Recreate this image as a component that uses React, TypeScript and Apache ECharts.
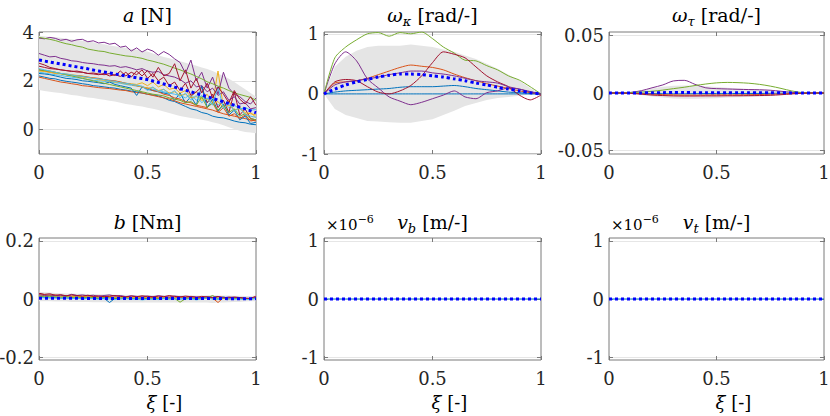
import React, { useEffect, useRef } from "react";
import * as echarts from "echarts";

const FONT = "DejaVu Serif";
const MAT = ["#0072BD", "#D95319", "#EDB120", "#7E2F8E", "#77AC30", "#4DBEEE", "#A2142F"];
const MEAN_COLOR = "#0000FF";
const BAND_COLOR = "#e5e5e5";
const AXIS_COLOR = "#7a7a7a";
const GRID_COLOR = "#e6e6e6";
const TEXT_COLOR = "#262626";

const X41 = [0, 0.025, 0.05, 0.075, 0.1, 0.125, 0.15, 0.175, 0.2, 0.225, 0.25, 0.275, 0.3, 0.325, 0.35, 0.375, 0.4, 0.425, 0.45, 0.475, 0.5, 0.525, 0.55, 0.575, 0.6, 0.625, 0.65, 0.675, 0.7, 0.725, 0.75, 0.775, 0.8, 0.825, 0.85, 0.875, 0.9, 0.925, 0.95, 0.975, 1];
const X21 = [0, 0.05, 0.1, 0.15, 0.2, 0.25, 0.3, 0.35, 0.4, 0.45, 0.5, 0.55, 0.6, 0.65, 0.7, 0.75, 0.8, 0.85, 0.9, 0.95, 1];
const X_TICKS = [0, 0.5, 1];

// ---------- a [N] ----------
const A1 = [2.20, 2.15, 2.10, 2.08, 2.02, 1.98, 1.95, 1.92, 1.88, 1.85, 1.80, 1.78, 1.75, 1.72, 1.70, 1.65, 1.62, 1.58, 1.55, 1.50, 1.45, 1.42, 1.38, 1.30, 1.20, 1.15, 1.05, 0.95, 0.85, 0.80, 0.70, 0.65, 0.55, 0.50, 0.48, 0.42, 0.35, 0.30, 0.28, 0.22, 0.20];
const A2 = [2.15, 2.10, 2.05, 2.00, 1.95, 1.92, 1.88, 1.85, 1.80, 1.78, 1.75, 1.72, 1.70, 1.68, 1.65, 1.62, 1.60, 1.55, 1.52, 1.50, 1.45, 1.40, 1.35, 1.30, 1.25, 1.18, 1.10, 1.05, 1.00, 0.95, 0.90, 0.85, 0.80, 0.72, 0.65, 0.60, 0.55, 0.50, 0.45, 0.40, 0.35];
const A3 = [2.45, 2.42, 2.38, 2.35, 2.30, 2.28, 2.25, 2.22, 2.20, 2.15, 2.12, 2.08, 2.05, 2.00, 1.98, 1.95, 1.90, 1.88, 1.85, 1.92, 1.80, 1.95, 1.75, 1.85, 1.65, 1.70, 1.50, 1.60, 1.35, 1.55, 1.25, 1.45, 1.10, 2.40, 0.90, 1.20, 0.75, 0.95, 0.60, 0.70, 0.50];
const A4 = [3.75, 3.72, 3.78, 3.74, 3.66, 3.70, 3.62, 3.68, 3.70, 3.60, 3.64, 3.55, 3.58, 3.50, 3.54, 3.38, 3.42, 3.22, 3.35, 3.18, 3.30, 3.22, 3.05, 3.20, 3.08, 2.90, 2.75, 2.30, 2.85, 2.00, 2.35, 1.70, 2.15, 1.45, 2.35, 1.70, 1.45, 1.35, 1.15, 1.05, 1.30];
const A5 = [3.78, 3.74, 3.70, 3.65, 3.58, 3.52, 3.48, 3.42, 3.38, 3.30, 3.26, 3.22, 3.20, 3.14, 3.10, 3.06, 3.02, 3.00, 2.96, 2.92, 2.85, 2.80, 2.74, 2.68, 2.60, 2.52, 2.45, 2.36, 2.28, 2.18, 2.08, 1.96, 1.88, 1.78, 1.70, 1.60, 1.50, 1.44, 1.38, 1.32, 1.20];
const A6 = [2.35, 2.32, 2.28, 2.25, 2.22, 2.18, 2.15, 2.12, 2.10, 2.05, 2.02, 2.00, 1.98, 1.95, 1.92, 1.90, 1.85, 1.82, 1.78, 1.75, 1.70, 1.65, 1.60, 1.55, 1.50, 1.45, 1.40, 1.30, 1.45, 1.20, 1.40, 1.10, 1.30, 1.00, 1.15, 0.90, 1.00, 0.85, 0.90, 0.80, 0.82];
const A7 = [2.72, 2.65, 2.55, 2.50, 2.45, 2.42, 2.38, 2.40, 2.35, 2.30, 2.32, 2.28, 2.25, 2.30, 2.22, 2.40, 2.20, 2.35, 2.25, 2.45, 2.10, 2.30, 2.00, 2.15, 1.80, 1.95, 1.60, 1.90, 1.40, 1.55, 1.75, 1.10, 1.45, 0.90, 1.20, 0.70, 1.55, 0.60, 0.85, 0.45, 0.40];
const A8 = [2.30, 2.28, 2.25, 2.20, 2.15, 2.10, 2.08, 2.05, 2.00, 1.98, 1.95, 1.92, 1.88, 1.95, 1.85, 1.80, 1.75, 1.70, 1.40, 1.75, 1.65, 1.60, 1.55, 1.50, 1.45, 1.20, 1.50, 1.10, 1.35, 1.00, 1.80, 0.90, 1.25, 0.75, 1.05, 0.60, 0.80, 0.40, 0.55, 0.25, 0.30];
const A9 = [2.45, 2.40, 2.35, 2.32, 2.30, 2.25, 2.22, 2.20, 2.18, 2.15, 2.12, 2.10, 2.05, 2.02, 2.00, 1.95, 1.90, 1.85, 1.80, 1.75, 1.70, 1.60, 1.55, 1.45, 1.40, 1.30, 1.25, 1.15, 1.10, 1.00, 0.95, 0.90, 1.10, 0.70, 0.90, 0.55, 0.65, 0.45, 0.60, 0.35, 0.40];
const A10 = [2.40, 2.38, 2.35, 2.30, 2.28, 2.25, 2.22, 2.20, 2.15, 2.12, 2.10, 2.05, 2.02, 1.98, 1.95, 1.92, 1.88, 1.85, 1.80, 1.75, 1.70, 1.72, 1.60, 1.65, 1.50, 1.55, 1.40, 1.45, 1.30, 1.35, 1.20, 1.25, 1.05, 1.15, 0.90, 1.00, 0.80, 0.85, 0.70, 0.65, 0.60];
const A11 = [3.12, 3.05, 2.98, 3.00, 2.92, 2.88, 2.82, 2.80, 2.75, 2.72, 2.70, 2.66, 2.64, 2.60, 2.62, 2.55, 2.58, 2.52, 2.45, 2.50, 2.40, 2.35, 2.38, 2.25, 2.20, 2.15, 2.05, 1.90, 2.00, 1.75, 1.80, 1.55, 1.70, 1.40, 1.55, 1.20, 1.35, 1.05, 1.10, 0.85, 0.90];
const A12 = [2.45, 2.42, 2.40, 2.35, 2.30, 2.25, 2.20, 2.15, 2.10, 2.05, 2.00, 1.95, 1.90, 1.85, 1.80, 1.75, 1.70, 1.65, 1.60, 1.55, 1.50, 1.45, 1.42, 1.38, 1.30, 1.25, 1.20, 1.10, 1.15, 1.00, 1.35, 0.90, 1.10, 0.80, 1.00, 0.70, 0.85, 0.55, 0.65, 0.45, 0.40];
const A13 = [2.50, 2.45, 2.40, 2.35, 2.30, 2.28, 2.24, 2.20, 2.18, 2.14, 2.10, 2.08, 2.05, 2.00, 1.98, 1.92, 1.90, 1.85, 1.82, 1.78, 1.60, 1.75, 1.55, 1.65, 1.45, 1.60, 1.30, 1.50, 1.20, 1.40, 1.10, 1.30, 1.00, 1.75, 0.85, 1.10, 0.75, 0.90, 0.60, 0.55, 0.50];
const A14 = [2.60, 2.55, 2.50, 2.48, 2.45, 2.42, 2.40, 2.36, 2.35, 2.30, 2.28, 2.25, 2.30, 2.20, 2.25, 2.18, 2.35, 2.15, 2.40, 2.20, 2.42, 2.15, 2.55, 2.20, 2.30, 2.70, 2.00, 2.45, 1.70, 2.10, 1.50, 1.90, 1.30, 1.75, 1.45, 1.10, 1.60, 1.25, 1.05, 1.35, 1.00];
const A_MEAN = [2.85, 2.81, 2.77, 2.73, 2.69, 2.65, 2.61, 2.57, 2.53, 2.49, 2.44, 2.40, 2.36, 2.32, 2.28, 2.24, 2.20, 2.16, 2.12, 2.09, 2.05, 1.99, 1.93, 1.87, 1.81, 1.74, 1.68, 1.61, 1.55, 1.48, 1.42, 1.35, 1.28, 1.21, 1.14, 1.07, 1.00, 0.92, 0.85, 0.77, 0.69];
const A_UP = [3.85, 3.83, 3.80, 3.78, 3.76, 3.72, 3.70, 3.66, 3.64, 3.60, 3.58, 3.52, 3.50, 3.45, 3.42, 3.38, 3.35, 3.30, 3.28, 3.22, 3.20, 3.12, 3.05, 2.98, 2.92, 2.86, 2.80, 2.74, 2.68, 2.62, 2.55, 2.48, 2.40, 2.30, 2.20, 2.08, 1.95, 1.80, 1.65, 1.50, 1.35];
const A_LO = [1.62, 1.58, 1.55, 1.52, 1.50, 1.46, 1.42, 1.40, 1.36, 1.32, 1.30, 1.25, 1.22, 1.18, 1.15, 1.10, 1.05, 1.02, 0.98, 0.95, 0.90, 0.85, 0.80, 0.74, 0.68, 0.62, 0.56, 0.52, 0.48, 0.44, 0.40, 0.36, 0.30, 0.25, 0.18, 0.10, 0.02, -0.05, -0.10, -0.12, -0.15];

// ---------- omega_kappa ----------
const W_BLUE = [0, 0.03, 0.05, 0.06, 0.07, 0.08, 0.09, 0.11, 0.12, 0.12, 0.12, 0.13, 0.14, 0.12, 0.09, 0.07, 0.05, 0.03, 0.02, 0.01, 0];
const W_FLAT = [0, 0, 0, 0, 0, 0, 0, 0, 0, 0, 0, 0, 0, 0, 0, 0, 0, 0, 0, 0, 0];
const W_ORANGE = [0, 0.18, 0.20, 0.22, 0.26, 0.32, 0.38, 0.44, 0.48, 0.46, 0.44, 0.40, 0.33, 0.27, 0.22, 0.17, 0.13, 0.09, 0.05, 0.02, 0];
const W_PURPLE1 = [0, 0.50, 0.70, 0.55, 0.25, 0.10, -0.05, -0.12, -0.18, -0.14, -0.08, -0.02, 0.05, -0.05, -0.08, 0.02, 0.05, 0.10, 0.08, 0.04, 0];
const W_GREEN = [0, 0.60, 0.78, 0.90, 1.00, 1.02, 0.96, 1.02, 1.00, 1.03, 0.92, 0.78, 0.68, 0.56, 0.55, 0.47, 0.40, 0.30, 0.23, 0.12, 0];
const W_RED = [0, 0.20, 0.24, 0.22, 0.12, 0.03, 0.00, 0.05, 0.14, 0.30, 0.52, 0.70, 0.66, 0.60, 0.45, 0.30, 0.20, 0.12, -0.02, -0.10, -0.02];
const W_PURPLE2 = [0, 0.15, 0.20, 0.22, 0.25, 0.28, 0.32, 0.35, 0.38, 0.38, 0.35, 0.33, 0.30, 0.26, 0.22, 0.20, 0.18, 0.12, 0.08, 0.03, 0];
const W_MEAN = [0, 0.08, 0.15, 0.20, 0.24, 0.28, 0.31, 0.33, 0.33, 0.32, 0.30, 0.28, 0.25, 0.22, 0.18, 0.15, 0.11, 0.08, 0.05, 0.02, 0];
const W_UP = [0, 0.45, 0.62, 0.72, 0.78, 0.80, 0.80, 0.80, 0.82, 0.80, 0.78, 0.74, 0.70, 0.64, 0.58, 0.50, 0.42, 0.32, 0.22, 0.10, 0];
const W_LO = [0, -0.25, -0.35, -0.40, -0.45, -0.46, -0.47, -0.48, -0.48, -0.45, -0.42, -0.35, -0.28, -0.20, -0.15, -0.10, -0.07, -0.05, -0.03, -0.01, 0];

// ---------- omega_tau ----------
const T_BLUE = [0, 0, -0.0001, -0.0003, -0.0005, -0.0006, -0.0007, -0.0007, -0.0006, -0.0005, -0.0005, -0.0005, -0.0004, -0.0004, -0.0004, -0.0003, -0.0002, -0.0001, 0, 0, 0];
const T_ORANGE = [0, 0, -0.0002, -0.0006, -0.001, -0.0014, -0.0016, -0.0018, -0.0018, -0.0017, -0.0016, -0.0016, -0.0016, -0.0015, -0.0013, -0.0011, -0.0008, -0.0004, -0.0001, 0, 0];
const T_PURPLE = [0, 0, 0.0005, 0.002, 0.0045, 0.007, 0.0105, 0.011, 0.0075, 0.0045, 0.0038, 0.0035, 0.0032, 0.003, 0.0028, 0.0024, 0.0015, 0.0006, 0, 0, 0];
const T_GREEN = [0, 0, 0.0003, 0.0008, 0.0015, 0.0025, 0.0038, 0.005, 0.0065, 0.0078, 0.0088, 0.0092, 0.009, 0.0085, 0.0075, 0.006, 0.004, 0.0018, 0.0003, 0, 0];
const T_RED = [0, 0, -0.0003, -0.001, -0.0018, -0.0022, -0.0025, -0.0026, -0.0026, -0.0025, -0.0025, -0.0024, -0.0024, -0.0023, -0.0022, -0.002, -0.0015, -0.0008, -0.0002, 0, 0];
const T_MEAN = [0, 0, 0.0001, 0.0001, 0.0002, 0.0003, 0.0004, 0.0004, 0.0003, 0.0003, 0.0003, 0.0003, 0.0003, 0.0003, 0.0002, 0.0002, 0.0002, 0.0001, 0, 0, 0];
const T_UP = [0, 0, 0.0008, 0.002, 0.004, 0.0055, 0.0062, 0.0065, 0.0062, 0.0058, 0.0052, 0.0046, 0.004, 0.0035, 0.003, 0.0025, 0.0018, 0.001, 0.0003, 0, 0];
const T_LO = [0, 0, -0.0008, -0.0018, -0.003, -0.004, -0.0048, -0.005, -0.005, -0.0048, -0.0045, -0.004, -0.0038, -0.0035, -0.003, -0.0025, -0.0018, -0.001, -0.0003, 0, 0];

// ---------- b [Nm] (values in 1e-3 Nm) ----------
const B_UNIT = 0.001;
const B1 = [8, 6, 4, 5, 3, 4, 2, 3, 1, 2, 3, 1, 2, -12, 2, 1, 3, 2, 0, 1, 2, 0, 1, 2, 3, 1, 0, 2, 1, 0, 2, 4, 1, 0, 2, 1, 3, 5, 2, 1, 2];
const B2 = [18, 15, 12, 14, 10, 12, 9, 11, 8, 10, 9, 7, 9, 8, 6, 8, 7, 5, 7, 6, 4, 6, 5, 3, 5, 4, 6, 3, 5, 2, 4, 6, 3, -12, 4, 2, 5, 3, 1, 2, 4];
const B3 = [12, 10, 14, 9, 11, 8, 10, 7, 9, 6, 8, 5, 7, 4, 6, 3, 5, 4, 6, 3, 5, 2, 4, 3, 5, 2, 4, 6, 3, 5, 2, 4, 3, 4, 2, 4, 1, 3, 0, 2, 3];
const B4 = [15, 12, 14, 11, 13, 10, 16, 12, 14, 11, 13, 9, 12, 14, 10, 12, 8, 11, 9, 7, 10, 8, 11, 9, 7, 10, 8, 6, 9, 7, 5, 8, 6, 9, 4, 7, 5, 3, 2, 1, 6];
const B5 = [10, 8, 9, 7, 6, 8, 5, 7, 4, 6, 5, 3, 5, 4, 2, 4, 3, 1, 3, -2, 0, 2, 1, 3, 0, 2, -11, 1, 3, 0, 2, 4, 12, 1, 3, 0, 2, 1, 0, -1, 3];
const B6 = [6, 4, 5, 3, 2, 4, 1, 3, 0, 2, 1, -1, 1, 0, -2, 0, 1, -1, 0, -3, -1, 0, -2, 1, -1, 0, 2, -1, 1, -3, 0, 5, -1, 0, 8, 1, -1, 0, -2, 0, 1];
const B7 = [20, 16, 18, 13, 15, 11, 14, 12, 10, 13, 9, 11, 8, 10, 12, 9, 7, 10, 8, 11, 9, 7, 10, 8, 12, 9, 7, 10, 8, 6, 9, 7, 5, 8, 6, 4, 7, 5, 3, 2, 10];
const B_MEAN = [3, 3, 3, 3, 3, 3, 3, 3, 2, 2, 2, 2, 2, 2, 2, 2, 2, 2, 2, 2, 2, 2, 2, 2, 2, 2, 2, 2, 2, 2, 2, 2, 2, 2, 2, 1, 1, 1, 1, 1, 1];
const B_UP = [25, 23, 22, 21, 20, 19, 19, 18, 18, 17, 17, 16, 16, 16, 15, 15, 15, 14, 14, 14, 14, 13, 13, 13, 13, 13, 13, 13, 13, 12, 12, 13, 14, 12, 12, 12, 11, 11, 10, 10, 12];
const B_LO = [-8, -8, -8, -9, -9, -9, -10, -10, -10, -10, -11, -11, -11, -12, -12, -12, -12, -12, -12, -12, -12, -12, -12, -12, -12, -12, -12, -12, -12, -12, -12, -12, -14, -12, -12, -11, -10, -10, -9, -8, -8];

// ---------- v_b, v_t (values in 1e-6 m) ----------
const V_B = [0, 0, 0, 0, 0, 0, 0, 0, 0, 0, 0, 0, 0, 0, 0, 0, 0, 0, 0, 0, 0];
const V_B_MEAN = [0, 0, 0, 0, 0, 0, 0, 0, 0, 0, 0, 0, 0, 0, 0, 0, 0, 0, 0, 0, 0];
const V_T = [0, 0, 0, 0, 0, 0, 0, 0, 0, 0, 0, 0, 0, 0, 0, 0, 0, 0, 0, 0, 0];
const V_T_MEAN = [0, 0, 0, 0, 0, 0, 0, 0, 0, 0, 0, 0, 0, 0, 0, 0, 0, 0, 0, 0, 0];

const scaleB = (arr: number[]) => arr.map((v) => v * B_UNIT);

type Panel = {
  title: string; xs: number[]; lines: [number[], number][]; mean: number[];
  up?: number[]; lo?: number[]; ymin: number; ymax: number; yticks: number[];
  smooth: number | boolean; exp?: boolean; xlabel?: boolean;
};

const PANELS: Panel[] = [
  { title: "{i|a}{n| [N]}", xs: X41,
    lines: [[A1, 0], [A2, 1], [A3, 2], [A4, 3], [A5, 4], [A6, 5], [A7, 6], [A8, 0], [A9, 1], [A10, 2], [A11, 3], [A12, 4], [A13, 5], [A14, 6]],
    mean: A_MEAN, up: A_UP, lo: A_LO, ymin: -1, ymax: 4, yticks: [0, 2, 4], smooth: false },
  { title: "{i|ω}{s|κ}{n| [rad/-]}", xs: X21,
    lines: [[W_BLUE, 0], [W_FLAT, 0], [W_ORANGE, 1], [W_PURPLE1, 3], [W_GREEN, 4], [W_RED, 6], [W_PURPLE2, 3]],
    mean: W_MEAN, up: W_UP, lo: W_LO, ymin: -1, ymax: 1.03, yticks: [-1, 0, 1], smooth: 0.25 },
  { title: "{i|ω}{s|τ}{n| [rad/-]}", xs: X21,
    lines: [[T_BLUE, 0], [T_ORANGE, 1], [T_PURPLE, 3], [T_GREEN, 4], [T_RED, 6]],
    mean: T_MEAN, up: T_UP, lo: T_LO, ymin: -0.053, ymax: 0.053, yticks: [-0.05, 0, 0.05], smooth: 0.3 },
  { title: "{i|b}{n| [Nm]}", xs: X41,
    lines: [[scaleB(B1), 0], [scaleB(B2), 1], [scaleB(B3), 2], [scaleB(B4), 3], [scaleB(B5), 4], [scaleB(B6), 5], [scaleB(B7), 6]],
    mean: scaleB(B_MEAN), up: scaleB(B_UP), lo: scaleB(B_LO), ymin: -0.21, ymax: 0.21, yticks: [-0.2, 0, 0.2], smooth: false, xlabel: true },
  { title: "{i|v}{s|b}{n| [m/-]}", xs: X21, lines: [[V_B, 0]], mean: V_B_MEAN,
    ymin: -1.05, ymax: 1.05, yticks: [-1, 0, 1], smooth: false, exp: true, xlabel: true },
  { title: "{i|v}{s|t}{n| [m/-]}", xs: X21, lines: [[V_T, 0]], mean: V_T_MEAN,
    ymin: -1.05, ymax: 1.05, yticks: [-1, 0, 1], smooth: false, exp: true, xlabel: true },
];

const GH = 122;
const LAYOUT = [
  { left: 39, top: 32, width: 217, titleY: 15 },
  { left: 324, top: 32, width: 217, titleY: 15 },
  { left: 609, top: 32, width: 215, titleY: 15 },
  { left: 39, top: 238, width: 217, titleY: 222 },
  { left: 324, top: 238, width: 217, titleY: 222 },
  { left: 609, top: 238, width: 215, titleY: 222 },
];

const TITLE_RICH = {
  i: { fontFamily: FONT, fontSize: 19, fontStyle: "italic", color: "#000", lineHeight: 26 },
  n: { fontFamily: FONT, fontSize: 19, color: "#000", lineHeight: 26 },
  s: { fontFamily: FONT, fontSize: 13, fontStyle: "italic", color: "#000", lineHeight: 14, verticalAlign: "bottom" },
};
const EXP_RICH = {
  x: { fontFamily: FONT, fontSize: 15, color: "#000", lineHeight: 22 },
  e: { fontFamily: FONT, fontSize: 11, color: "#000", lineHeight: 12, verticalAlign: "top" },
};
const XLABEL_RICH = {
  i: { fontFamily: FONT, fontSize: 18, fontStyle: "italic", color: "#000", lineHeight: 24 },
  n: { fontFamily: FONT, fontSize: 18, color: "#000", lineHeight: 24 },
};

const fmt = (v: number) => String(Number(Number(v).toFixed(6)));

function buildOption() {
  const grid: any[] = [], xAxis: any[] = [], yAxis: any[] = [], series: any[] = [], graphic: any[] = [];
  const tickStyle = { show: true, inside: true, length: 4, lineStyle: { color: AXIS_COLOR, width: 1 } };
  const labelStyle = { fontFamily: FONT, fontSize: 18, color: TEXT_COLOR };

  PANELS.forEach((p, k) => {
    const L = LAYOUT[k];
    grid.push({ left: L.left, top: L.top, width: L.width, height: GH, show: true, borderColor: AXIS_COLOR, borderWidth: 1, containLabel: false, outerBoundsMode: "none" });
  });
  PANELS.forEach((p, k) => {
    xAxis.push({ gridIndex: k, type: "value", min: 0, max: 1, interval: 0.5, position: "bottom",
      axisLine: { show: false, onZero: false }, axisTick: tickStyle,
      axisLabel: { ...labelStyle, margin: 9, formatter: fmt, customValues: X_TICKS }, splitLine: { show: false } });
  });
  PANELS.forEach((p, k) => {
    xAxis.push({ gridIndex: k, type: "value", min: 0, max: 1, interval: 0.5, position: "top",
      axisLine: { show: false, onZero: false }, axisTick: tickStyle, axisLabel: { show: false }, splitLine: { show: false } });
  });
  PANELS.forEach((p, k) => {
    yAxis.push({ gridIndex: k, type: "value", min: p.ymin, max: p.ymax, position: "left",
      axisLine: { show: false, onZero: false }, axisTick: { ...tickStyle, customValues: p.yticks },
      axisLabel: { ...labelStyle, margin: 5, formatter: fmt, customValues: p.yticks },
      splitLine: { show: true, lineStyle: { color: GRID_COLOR, width: 1 } } });
  });
  PANELS.forEach((p, k) => {
    yAxis.push({ gridIndex: k, type: "value", min: p.ymin, max: p.ymax, position: "right",
      axisLine: { show: false, onZero: false }, axisTick: { ...tickStyle, customValues: p.yticks },
      axisLabel: { show: false, customValues: p.yticks }, splitLine: { show: false } });
  });

  PANELS.forEach((p, k) => {
    const xs = p.xs;
    if (p.up && p.lo) {
      const up = p.up, lo = p.lo;
      series.push({ type: "custom", xAxisIndex: k, yAxisIndex: k, silent: true, z: 1, clip: true,
        data: [[xs[0], up[0]]],
        renderItem: (params: any, api: any) => {
          const pts: number[][] = [];
          for (let i = 0; i < xs.length; i++) pts.push(api.coord([xs[i], up[i]]));
          for (let i = xs.length - 1; i >= 0; i--) pts.push(api.coord([xs[i], lo[i]]));
          return { type: "polygon", shape: { points: pts }, style: { fill: BAND_COLOR } };
        } });
    }
    p.lines.forEach(([ys, ci]) => {
      series.push({ type: "line", xAxisIndex: k, yAxisIndex: k, silent: true, z: 2,
        data: xs.map((x, i) => [x, ys[i]]), symbol: "none", showSymbol: false, smooth: p.smooth, clip: true,
        lineStyle: { color: MAT[ci], width: 1 }, itemStyle: { color: MAT[ci] } });
    });
    series.push({ type: "line", xAxisIndex: k, yAxisIndex: k, silent: true, z: 3,
      data: xs.map((x, i) => [x, p.mean[i]]), symbol: "none", showSymbol: false, smooth: p.smooth, clip: true,
      lineStyle: { color: MEAN_COLOR, width: 3, type: "dotted" }, itemStyle: { color: MEAN_COLOR } });

    const L = LAYOUT[k];
    graphic.push({ type: "text", x: L.left + L.width / 2, y: L.titleY, silent: true,
      style: { text: p.title, rich: TITLE_RICH, align: "center", verticalAlign: "middle" } });
    if (p.exp) {
      graphic.push({ type: "text", x: L.left + 2, y: 225, silent: true,
        style: { text: "{x|×10}{e|−6}", rich: EXP_RICH, align: "left", verticalAlign: "middle" } });
    }
    if (p.xlabel) {
      graphic.push({ type: "text", x: L.left + L.width / 2 - 1, y: 402, silent: true,
        style: { text: "{i|ξ}{n| [-]}", rich: XLABEL_RICH, align: "left", verticalAlign: "middle" } });
    }
  });

  return { animation: false, backgroundColor: "#ffffff", grid, xAxis, yAxis, series, graphic };
}

export default function App() {
  const ref = useRef<HTMLDivElement>(null);
  useEffect(() => {
    if (!ref.current) return;
    const chart = echarts.init(ref.current, null, { renderer: "svg" });
    chart.setOption(buildOption() as any);
    return () => chart.dispose();
  }, []);
  return <div ref={ref} style={{ position: "fixed", left: 0, top: 0, width: 830, height: 416 }} />;
}
